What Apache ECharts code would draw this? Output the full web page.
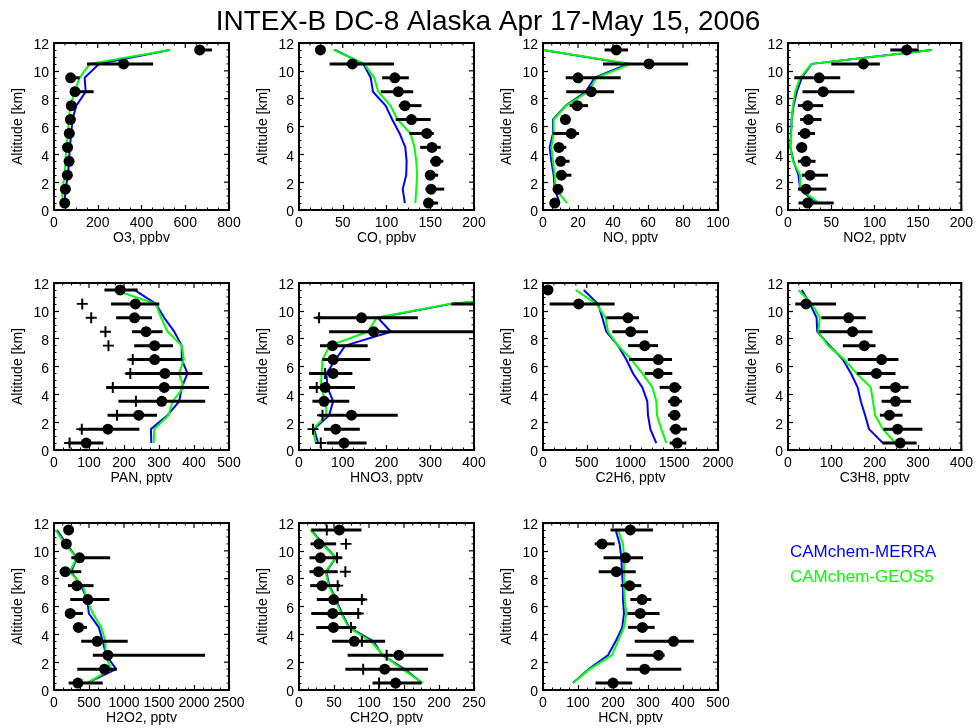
<!DOCTYPE html>
<html>
<head>
<meta charset="utf-8">
<script src="https://cdn.jsdelivr.net/npm/echarts@6/dist/echarts.min.js"></script>
<style>
html,body{margin:0;padding:0;background:#fff}
#chart{width:976px;height:728px}
</style>
</head>
<body>
<div id="chart"></div>
<script>
// Altitude bins (km), bottom to top
const ALT = [0.5, 1.5, 2.5, 3.5, 4.5, 5.5, 6.5, 7.5, 8.5, 9.5, 10.5, 11.5];
const Y_TICKS = [0, 2, 4, 6, 8, 10, 12];

// O3, ppbv
const O3_OBS   = [49, 52, 61, 69, 62, 70, 75, 79, 96, 76, 318, 666];
const O3_LO    = [44, 47, 55, 63, 56, 64, 69, 73, 80, 62, 151, 650];
const O3_HI    = [55, 58, 67, 75, 68, 76, 81, 86, 181, 117, 453, 722];
const O3_MERRA = [49, 52, 64, 69, 72, 79, 84, 102, 145, 140, 206, 528];
const O3_GEOS5 = [38, 38, 49, 52, 56, 64, 67, 75, 94, 117, 163, 530];

// CO, ppbv
const CO_OBS   = [148, 151, 150, 156.5, 152, 146, 128.5, 121, 113.5, 109.5, 61, 24.5];
const CO_LO    = [144.5, 144.5, 144.5, 150, 138.5, 126, 110.5, 114, 93.5, 95, 35, 22];
const CO_HI    = [159, 166, 159, 165, 162, 154, 150.5, 140, 130.5, 125.5, 108.5, 27];
const CO_MERRA = [121, 118.5, 122.5, 123, 121.5, 115, 106.5, 99, 84.5, 82, 73.5, 41];
const CO_GEOS5 = [133, 134, 135, 134, 132, 127.5, 112.5, 104.5, 90.5, 86, 74.5, 39.5];

// NO, pptv
const NO_OBS   = [6.7, 8.6, 10.5, 10.1, 9.1, 16.2, 12.8, 19.6, 27.6, 20, 60.6, 41.9];
const NO_LO    = [4.8, 5.7, 7.6, 7.6, 7.2, 5.7, 10.5, 15.2, 13.3, 13, 34.3, 35.2];
const NO_HI    = [9.5, 10.5, 16.2, 15.2, 13.3, 20.6, 15.2, 25.7, 40.6, 44.4, 82.9, 48.6];
const NO_MERRA = [9.5, 6.7, 6.1, 4.8, 3.8, 5.7, 5.7, 13, 24.4, 29.5, 48.6, 0];
const NO_GEOS5 = [13.7, 7.2, 6.7, 5.7, 4.8, 6.1, 6.1, 13.3, 25.7, 30.5, 50.1, 0];

// NO2, pptv
const NO2_OBS   = [22.7, 20.8, 25.4, 20.5, 15.9, 19.7, 23.5, 22.7, 40.6, 36, 87, 137];
const NO2_LO    = [12.1, 11.4, 15.9, 11.4, 9.5, 11.4, 14, 11.4, 16.7, 7.2, 50, 118];
const NO2_HI    = [52.7, 44.3, 46.2, 31.8, 21.6, 31.1, 38.7, 40.6, 76.6, 60.3, 106, 151];
const NO2_MERRA = [33, 14, 12.1, 6.4, 2.7, 3.4, 4.2, 6.4, 10.2, 15.9, 27.3, 165.6];
const NO2_GEOS5 = [36, 14, 14, 5.7, 2.7, 3.8, 4.2, 5.7, 8.3, 14, 27.3, 166.4];

// PAN, pptv
const PAN_OBS   = [92, 154, 242, 308, 315, 317, 287.5, 287.5, 263, 230, 232.5, 189];
const PAN_LO    = [40, 71, 153, 184, 149, 206, 215, 229, 223, 177.5, 163, 144];
const PAN_HI    = [141, 244, 294, 432, 443, 424, 363, 340, 310, 280, 301, 239];
const PAN_PLUS  = [44.6, 79.4, 180, 234, 168, 218, 225, 155.6, 147, 106.3, 80.7, null];
const PAN_MERRA = [278, 277, 324.6, 357.8, 365, 381.5, 365, 365, 343.6, 315, 291, 229.7];
const PAN_GEOS5 = [284.7, 286.6, 327, 338.8, 371, 357, 371, 365, 324.6, 306, 291, 172.7];

// HNO3, pptv
const HNO3_OBS   = [103, 84, 120, 57.4, 59.7, 78, 78, 76.5, 170.6, 143, 450, null];
const HNO3_LO    = [63.5, 57.4, 46, 30.6, 23, 23, 53.5, 48, 68.9, 39.8, 348, null];
const HNO3_HI    = [154.5, 139, 225.7, 114.8, 127.8, 122, 163, 157, 420, 271.6, 560, null];
const HNO3_PLUS  = [49.7, 32, 53.6, null, 40.5, 59.7, null, null, null, 45.9, null, null];
const HNO3_MERRA = [43.6, 34.4, 68.9, 78, 65, 62.7, 84, 105.6, 210, 180, 348, 700];
const HNO3_GEOS5 = [38.2, 32, 62.7, 61.2, 49.7, 52, 53.6, 70.4, 157, 177.5, 344, 700];

// C2H6, pptv
const C2H6_OBS   = [1535, 1516, 1505, 1505, 1505, 1318, 1318, 1162, 1002, 972, 408, 57];
const C2H6_LO    = [1448, 1448, 1429, 1429, 1333, 1162, 983, 972, 793, 724, 76, 40];
const C2H6_HI    = [1638, 1646, 1570, 1589, 1581, 1478, 1474, 1314, 1200, 1097, 819, 75];
const C2H6_MERRA = [1295, 1227, 1200, 1192, 1135, 1029, 952, 857, 724, 678, 629, 465];
const C2H6_GEOS5 = [1410, 1353, 1303, 1295, 1250, 1135, 1010, 857, 743, 716, 610, 373];

// C3H8, pptv
const C3H8_OBS   = [259, 253, 234, 248, 248, 204, 216, 176, 149, 140, 41.7, null];
const C3H8_LO    = [217.6, 220, 212, 216, 211.5, 159, 138, 126.6, 71, 77, 16.7, null];
const C3H8_HI    = [297, 310, 264.5, 284, 278, 248, 255, 202, 195, 179.6, 111, null];
const C3H8_MERRA = [219, 187, 178, 168, 160.7, 145.5, 126.6, 96, 67.5, 66, 50.8, 31.8];
const C3H8_GEOS5 = [248, 219, 201, 196, 191, 158.4, 130, 92.5, 69.7, 73.5, 54.6, 24.3];

// H2O2, pptv
const H2O2_OBS   = [342, 721, 769, 617, 351, 232, 484, 327, 161, 365, 176, 209];
const H2O2_LO    = [209, 332, 555, 389, 270, 176, 232, 199, 81, 247, 160, 195];
const H2O2_HI    = [697, 897, 2158, 1053, 470, 413, 792, 565, 389, 802, 190, 225];
const H2O2_MERRA = [470, 887, 745, 697, 640, 498, 474, 389, 247, 327, 176, 43];
const H2O2_GEOS5 = [470, 816, 735, 735, 674, 555, 470, 413, 223, 327, 152, 24];

// CH2O, pptv
const CH2O_OBS   = [138, 122.4, 142.7, 79, 49.2, 48.2, 49.6, 33, 27.9, 30.7, 28.4, 57.7];
const CH2O_LO    = [105, 66.2, 69.5, 47.3, 24.6, 17.5, 25.5, 16, 15, 15, 16.5, 17.5];
const CH2O_HI    = [175, 184.3, 206.5, 123, 81.3, 88.4, 94.5, 58.6, 55.3, 61, 53, 89.3];
const CH2O_PLUS  = [114.4, 91.7, 125.2, 89.8, 74.2, 84.6, 89.8, 55.3, 66.2, 54.3, 67.1, 39.7];
const CH2O_MERRA = [175.8, 150.8, 119, 106.3, 71.8, 61.4, 53, 43.5, 38.8, 53, 34, 17.5];
const CH2O_GEOS5 = [177, 147.5, 120.5, 102.6, 71, 60, 52, 42.5, 37.8, 52, 33, 16.5];

// HCN, pptv
const HCN_OBS   = [200, 290.4, 330, 373, 284, 278, 283, 247.6, 209.5, 236, 168.6, 249.5];
const HCN_LO    = [150, 238, 238, 262, 243, 241, 249.5, 222, 159, 173, 147.6, 193];
const HCN_HI    = [255, 395, 347.5, 431, 319, 333, 309.5, 281, 265, 286, 204.8, 314];
const HCN_MERRA = [85.7, 130.4, 185.6, 207.6, 226.6, 231.4, 228.5, 228.5, 225.6, 223.8, 219, 207.6];
const HCN_GEOS5 = [85.7, 133.3, 197, 214, 231.4, 238, 233.3, 231.4, 231.4, 231.4, 228.5, 214];

const TITLE = 'INTEX-B DC-8 Alaska Apr 17-May 15, 2006';
const MODEL_NAMES = ['CAMchem-MERRA', 'CAMchem-GEOS5'];
const MODEL_COLORS = ['#0000ff', '#00ff00'];

const PANELS = [
  {label: 'O3, ppbv',   max: 800,  step: 200, obs: O3_OBS,   lo: O3_LO,   hi: O3_HI,   m: O3_MERRA,   g: O3_GEOS5},
  {label: 'CO, ppbv',   max: 200,  step: 50,  obs: CO_OBS,   lo: CO_LO,   hi: CO_HI,   m: CO_MERRA,   g: CO_GEOS5},
  {label: 'NO, pptv',   max: 100,  step: 20,  obs: NO_OBS,   lo: NO_LO,   hi: NO_HI,   m: NO_MERRA,   g: NO_GEOS5},
  {label: 'NO2, pptv',  max: 200,  step: 50,  obs: NO2_OBS,  lo: NO2_LO,  hi: NO2_HI,  m: NO2_MERRA,  g: NO2_GEOS5},
  {label: 'PAN, pptv',  max: 500,  step: 100, obs: PAN_OBS,  lo: PAN_LO,  hi: PAN_HI,  m: PAN_MERRA,  g: PAN_GEOS5,  plus: PAN_PLUS},
  {label: 'HNO3, pptv', max: 400,  step: 100, obs: HNO3_OBS, lo: HNO3_LO, hi: HNO3_HI, m: HNO3_MERRA, g: HNO3_GEOS5, plus: HNO3_PLUS},
  {label: 'C2H6, pptv', max: 2000, step: 500, obs: C2H6_OBS, lo: C2H6_LO, hi: C2H6_HI, m: C2H6_MERRA, g: C2H6_GEOS5},
  {label: 'C3H8, pptv', max: 400,  step: 100, obs: C3H8_OBS, lo: C3H8_LO, hi: C3H8_HI, m: C3H8_MERRA, g: C3H8_GEOS5},
  {label: 'H2O2, pptv', max: 2500, step: 500, obs: H2O2_OBS, lo: H2O2_LO, hi: H2O2_HI, m: H2O2_MERRA, g: H2O2_GEOS5},
  {label: 'CH2O, pptv', max: 250,  step: 50,  obs: CH2O_OBS, lo: CH2O_LO, hi: CH2O_HI, m: CH2O_MERRA, g: CH2O_GEOS5, plus: CH2O_PLUS},
  {label: 'HCN, pptv',  max: 500,  step: 100, obs: HCN_OBS,  lo: HCN_LO,  hi: HCN_HI,  m: HCN_MERRA,  g: HCN_GEOS5}
];

// Layout of the 4 x 3 panel grid
const COL_LEFT = [54, 299, 543, 788];
const ROW_TOP = [43, 283, 523];
const PW = 175, PH = 167;
const FONT = "'Liberation Sans', Arial, Helvetica, sans-serif";
const Y_STEP = 2, MINOR_SPLIT = 4, TICK_LEN = 5, MINOR_LEN = 2.5;

const grids = [], xAxes = [], yAxes = [], series = [];
const mkLine = () => ({show: true, onZero: false, lineStyle: {color: '#000', width: 2}});
const mkTick = () => ({show: true, inside: true, length: TICK_LEN, lineStyle: {color: '#000', width: 1.2}});
const mkMinor = () => ({show: true, splitNumber: MINOR_SPLIT, length: MINOR_LEN, lineStyle: {color: '#000', width: 1}});
const plainNumber = v => String(v);
const shifted = v => '{t|' + v + '}';

// Closed frame with mirrored ticks along the top and right edges
function frameRenderer(p) {
  return (params, api) => {
    const cs = params.coordSys;
    const kids = [{type: 'rect', shape: {x: cs.x, y: cs.y, width: cs.width, height: cs.height},
      style: {fill: 'none', stroke: '#000', lineWidth: 2}}];
    const yMax = Y_TICKS[Y_TICKS.length - 1];
    const nx = Math.round(p.max / p.step) * MINOR_SPLIT;
    for (let k = 0; k <= nx; k++) {
      const v = k * p.step / MINOR_SPLIT;
      const px = api.coord([v, yMax])[0];
      const len = k % MINOR_SPLIT === 0 ? TICK_LEN : MINOR_LEN;
      kids.push({type: 'line', shape: {x1: px, y1: cs.y, x2: px, y2: cs.y + len},
        style: {stroke: '#000', lineWidth: k % MINOR_SPLIT === 0 ? 1.2 : 1}});
    }
    const ny = Math.round(yMax / Y_STEP) * MINOR_SPLIT;
    for (let k = 0; k <= ny; k++) {
      const v = k * Y_STEP / MINOR_SPLIT;
      const py = api.coord([p.max, v])[1];
      const len = k % MINOR_SPLIT === 0 ? TICK_LEN : MINOR_LEN;
      kids.push({type: 'line', shape: {x1: cs.x + cs.width, y1: py, x2: cs.x + cs.width - len, y2: py},
        style: {stroke: '#000', lineWidth: k % MINOR_SPLIT === 0 ? 1.2 : 1}});
    }
    return {type: 'group', children: kids};
  };
}

PANELS.forEach((p, i) => {
  grids.push({left: COL_LEFT[i % 4], top: ROW_TOP[Math.floor(i / 4)], width: PW, height: PH});
  xAxes.push({
    type: 'value', gridIndex: i, min: 0, max: p.max, interval: p.step, position: 'bottom',
    axisLine: mkLine(), axisTick: mkTick(), minorTick: mkMinor(), splitLine: {show: false},
    axisLabel: {color: '#000', fontSize: 14, fontFamily: FONT, margin: 6, formatter: plainNumber,
      showMinLabel: true, showMaxLabel: true},
    name: p.label, nameLocation: 'middle', nameGap: 20,
    nameTextStyle: {color: '#000', fontSize: 14, fontFamily: FONT}
  });
  yAxes.push({
    type: 'value', gridIndex: i, min: Y_TICKS[0], max: Y_TICKS[Y_TICKS.length - 1], interval: Y_STEP,
    position: 'left',
    axisLine: mkLine(), axisTick: mkTick(), minorTick: mkMinor(), splitLine: {show: false},
    axisLabel: {color: '#000', fontSize: 14, fontFamily: FONT, margin: 5, formatter: shifted,
      rich: {t: {fontSize: 14, fontFamily: FONT, color: '#000', padding: [5, 0, 0, 0]}}},
    name: 'Altitude [km]', nameLocation: 'middle', nameGap: 29, nameRotate: 90,
    nameTextStyle: {color: '#000', fontSize: 14, fontFamily: FONT}
  });

  [p.m, p.g].forEach((vals, k) => {
    series.push({
      type: 'line', name: MODEL_NAMES[k], xAxisIndex: i, yAxisIndex: i,
      data: ALT.map((a, j) => [vals[j], a]),
      showSymbol: false, symbol: 'none', clip: true, z: 2,
      lineStyle: {color: MODEL_COLORS[k], width: 2}
    });
  });

  const bars = [];
  ALT.forEach((a, j) => { if (p.obs[j] != null) bars.push([p.lo[j], p.hi[j], a]); });
  series.push({
    type: 'custom', xAxisIndex: i, yAxisIndex: i, clip: true, z: 3,
    encode: {x: [0, 1], y: 2},
    data: bars,
    renderItem: (params, api) => {
      const a = api.coord([api.value(0), api.value(2)]);
      const b = api.coord([api.value(1), api.value(2)]);
      return {type: 'line', shape: {x1: a[0], y1: a[1], x2: b[0], y2: b[1]},
        style: {stroke: '#000', lineWidth: 3}};
    }
  });

  const dots = [];
  ALT.forEach((a, j) => { if (p.obs[j] != null) dots.push([p.obs[j], a]); });
  series.push({
    type: 'scatter', xAxisIndex: i, yAxisIndex: i, data: dots, clip: true, z: 4,
    symbol: 'circle', symbolSize: 11, itemStyle: {color: '#000', opacity: 1}
  });

  if (p.plus) {
    const pl = [];
    ALT.forEach((a, j) => { if (p.plus[j] != null) pl.push([p.plus[j], a]); });
    series.push({
      type: 'scatter', xAxisIndex: i, yAxisIndex: i, data: pl, clip: true, z: 5,
      symbol: 'path://M4.1,0h1.8v4.1h4.1v1.8h-4.1v4.1h-1.8v-4.1h-4.1v-1.8h4.1z',
      symbolSize: 11, itemStyle: {color: '#000', opacity: 1}
    });
  }

  series.push({
    type: 'custom', xAxisIndex: i, yAxisIndex: i, clip: false, silent: true, z: 6,
    encode: {x: 0, y: 1}, data: [[0, 0]], renderItem: frameRenderer(p)
  });
});

const chart = echarts.init(document.getElementById('chart'), null, {renderer: 'canvas'});
chart.setOption({
  animation: false,
  backgroundColor: '#fff',
  title: {text: TITLE, left: 'center', top: 3,
    textStyle: {color: '#000', fontSize: 28, fontWeight: 'normal', fontFamily: FONT}},
  grid: grids,
  xAxis: xAxes,
  yAxis: yAxes,
  series: series,
  graphic: MODEL_NAMES.map((n, k) => ({
    type: 'text', left: 790, top: 544 + 25 * k,
    style: {text: n, fill: MODEL_COLORS[k], fontSize: 17, fontFamily: FONT}
  }))
});
</script>
</body>
</html>
